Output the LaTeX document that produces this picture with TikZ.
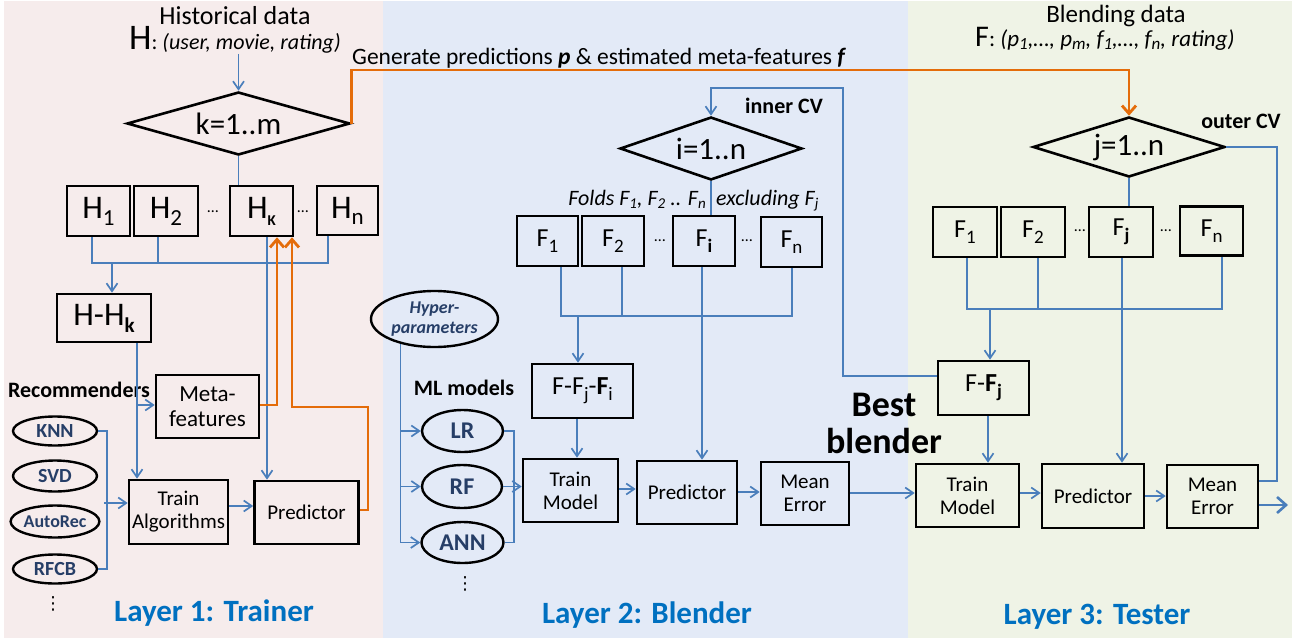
\documentclass[tikz,border=0pt]{standalone}
\usepackage{fontspec}
\setmainfont{Carlito}
\newfontfamily\dvf{DejaVu Sans}
\usetikzlibrary{shapes.geometric,arrows.meta}
\definecolor{bA}{RGB}{74,126,187}
\definecolor{oA}{RGB}{228,108,10}
\definecolor{tB}{RGB}{0,112,192}
\definecolor{eT}{RGB}{38,62,103}
\definecolor{bgA}{RGB}{246,236,236}
\definecolor{bgB}{RGB}{227,234,247}
\definecolor{bgC}{RGB}{239,243,230}
\newcommand{\fsz}[2]{\fontsize{#1}{#2}\selectfont}
\newcommand{\low}[3]{\raisebox{-#1pt}{\fontsize{#2}{#2}\selectfont #3}}
\tikzset{
 box/.style={draw, line width=2.6pt, inner sep=1pt, align=center, font=\fsz{21}{23}},
 dia/.style={draw, diamond, line width=2.6pt, inner sep=0pt, aspect=3.5, font=\fsz{31}{33}},
 ell/.style={draw, ellipse, line width=2.4pt, inner sep=0pt, align=center, text=eT, font=\bfseries\fsz{20}{22}},
 bl/.style={draw=bA, line width=1.7pt},
 blA/.style={bl, -{Straight Barb[length=8pt,width=11pt]}},
 orA/.style={draw=oA, line width=2.8pt, -{Straight Barb[length=8pt,width=14pt]}},
 lay/.style={text=tB, font=\bfseries\fsz{31}{33}},
 lbl/.style={font=\bfseries\fsz{22}{24}},
 hb/.style={box, minimum width=63, minimum height=50},
 vdt/.style={font=\dvf\fsz{18}{18}},
}
\begin{document}
\begin{tikzpicture}[x=1pt,y=-1pt]
\useasboundingbox (0,0) rectangle (1305,642);
\fill[white] (0,0) rectangle (1305,642);
\fill[bgA] (4,1) rectangle (383,638);
\fill[bgB] (383,1) rectangle (908,638);
\fill[bgC] (908,1) rectangle (1292,638);

% ---------- Layer 1 ----------
\node[font=\fsz{26}{28}, inner sep=0] (histT) at (235,16) {Historical data};
\node[anchor=base west, inner sep=0] (hdata) at (129,50) {{\fsz{36}{36}H}{\fsz{22}{22}: \textit{(user, movie, rating)}}};
\node[dia, minimum width=223, minimum height=63] (d1) at (238.5,123.5) {k=1..m};

\node[hb] (h1) at (98.5,211) {\fsz{33}{33}H\low{7}{23}{1}};
\node[hb, minimum width=64] (h2) at (166,211) {\fsz{33}{33}H\low{7}{23}{2}};
\node (hd1) at (213,212) {\fsz{16}{16}\ldots};
\node[hb] (hk) at (261.5,211) {\fsz{33}{33}H\low{7}{15}{\bfseries K}};
\node (hd2) at (303,212) {\fsz{16}{16}\ldots};
\node[hb, minimum width=61, minimum height=49] (hn) at (347.5,210.5) {\fsz{33}{33}H\low{6}{23}{n}};

\node[box, minimum width=94, minimum height=48] (hhk) at (104,318) {\fsz{33}{33}H-H\low{7}{21}{\bfseries k}};
\node[box, minimum width=103, minimum height=63, font=\fsz{23}{25}] (meta) at (207.5,406.5) {Meta-\\features};
\node[box, minimum width=99, minimum height=64] (tra) at (178.5,512) {Train\\Algorithms};
\node[box, minimum width=104, minimum height=63] (pr1) at (306.5,512.5) {Predictor};

\node[ell, minimum width=84, minimum height=29] (knn) at (55,431) {KNN};
\node[ell, minimum width=84, minimum height=31] (svd) at (55,476) {SVD};
\node[ell, minimum width=84, minimum height=32, font=\bfseries\fsz{18}{20}] (arec) at (55,521.5) {AutoRec};
\node[ell, minimum width=84, minimum height=29] (rfcb) at (55,569) {RFCB};
\node[vdt] (vd1) at (53,604) {⋮};
\node[lbl] (rec) at (79,390) {Recommenders};
\node[lay] (l1) at (214,613) {Layer 1: Trainer};

% ---------- Layer 2 ----------
\node[anchor=base west, inner sep=0, font=\fsz{23.5}{25}] (gen) at (352,64) {Generate predictions \textbf{\textit{p}} \& estimated meta-features \textbf{\textit{f}}};
\node[dia, minimum width=182, minimum height=63] (di) at (711,148.5) {i=1..n};
\node[lbl] (icv) at (784,106) {inner CV};
\node[anchor=base east, inner sep=0, font=\itshape\fsz{22}{24}] (folds) at (706,205) {Folds F\low{3}{15}{1}, F\low{3}{15}{2} .. F\low{3}{15}{n}};
\node[anchor=base west, inner sep=0, font=\itshape\fsz{22}{24}] (excl) at (716,205) {excluding F\low{3}{15}{j}};

\node[hb, minimum width=61] (f1) at (547.5,241) {\fsz{26}{26}F\low{6}{19}{1}};
\node[hb, minimum width=62] (f2) at (613,241) {\fsz{26}{26}F\low{6}{19}{2}};
\node (fd1) at (660,241) {\fsz{16}{16}\ldots};
\node[hb, minimum width=62] (fi) at (704,241) {\fsz{26}{26}F\low{6}{19}{\bfseries i}};
\node (fd2) at (747,241) {\fsz{16}{16}\ldots};
\node[hb, minimum width=61] (fn) at (791.5,242) {\fsz{26}{26}F\low{6}{19}{n}};

\node[box, minimum width=101, minimum height=54] (ffi) at (582.5,391) {\fsz{26}{26}F-F\low{6}{19}{j}-\textbf{F}\low{6}{19}{i}};
\node[box, minimum width=95, minimum height=63] (tm2) at (570.5,490.5) {Train\\Model};
\node[box, minimum width=100, minimum height=63] (pr2) at (687,492.5) {Predictor};
\node[box, minimum width=88, minimum height=63] (me2) at (805,493.5) {Mean\\Error};

\node[ell, minimum width=127, minimum height=56, font=\bfseries\itshape\fsz{18}{20}] (hyp) at (434.5,319) {Hyper-\\parameters};
\node[ell, minimum width=81, minimum height=42, font=\bfseries\fsz{24}{26}] (lr) at (462.5,431) {LR};
\node[ell, minimum width=80, minimum height=43, font=\bfseries\fsz{24}{26}] (rf) at (462,486.5) {RF};
\node[ell, minimum width=82, minimum height=41, font=\bfseries\fsz{24}{26}] (ann) at (462.5,542.5) {ANN};
\node[font=\bfseries\fsz{22}{24}] (mlm) at (464,388) {ML models};
\node[vdt] (vd2) at (465,584) {⋮};
\node[lay] (l2) at (647,615) {Layer 2: Blender};
\node[font=\bfseries\fsz{36}{37}, align=center] (best) at (884,423) {Best\\blender};

% ---------- Layer 3 ----------
\node[font=\fsz{25}{27}, inner sep=0] (blt) at (1116,16) {Blending data};
\node[anchor=base west, inner sep=0] (fdata) at (975,47) {{\fsz{30}{30}F}{\fsz{23}{23}: \textit{(p\low{3}{17}{1},\ldots, p\low{3}{17}{m}, f\low{3}{17}{1},\ldots, f\low{3}{17}{n}, rating)}}};
\node[dia, minimum width=192, minimum height=60] (dj) at (1129,147) {j=1..n};
\node[font=\bfseries\fsz{22}{24}] (ocv) at (1241,121) {outer CV};

\node[hb, minimum width=64] (g1) at (965,232) {\fsz{26}{26}F\low{6}{19}{1}};
\node[hb, minimum width=64] (g2) at (1033,232) {\fsz{26}{26}F\low{6}{19}{2}};
\node (gd1) at (1080,231) {\fsz{16}{16}\ldots};
\node[hb, minimum width=64] (gj) at (1121,232) {\fsz{26}{26}F\low{6}{19}{\bfseries j}};
\node (gd2) at (1166,231) {\fsz{16}{16}\ldots};
\node[hb, minimum width=63, minimum height=49] (gn) at (1211.5,231) {\fsz{26}{26}F\low{6}{19}{n}};

\node[box, minimum width=91, minimum height=54] (ffj) at (983.5,388) {\fsz{26}{26}F-\textbf{F}\low{6}{19}{\bfseries j}};
\node[box, minimum width=103, minimum height=63] (tm3) at (967.5,495.5) {Train\\Model};
\node[box, minimum width=102, minimum height=64] (pr3) at (1093,496) {Predictor};
\node[box, minimum width=91, minimum height=63] (me3) at (1212.5,496.5) {Mean\\Error};
\coordinate (outE) at (1288,505);
\node[lay] (l3) at (1097,617) {Layer 3: Tester};

% ---------- connectors layer 1 ----------
\draw[blA] (d1.north |- hdata.south) -- (d1.north);
\draw[bl] (d1.south) -- (d1.south |- hk.north);
\draw[bl] (h1.south -| 92,0) -- (92,263) -- (328,263) -- (hn.south -| 328,0);
\draw[bl] (h2.south -| 158,0) -- (158,263);
\draw[blA] (112,263) -- (hhk.north -| 112,0);
\draw[blA] (hhk.south -| 137,0) -- (tra.north -| 137,0);
\draw[blA] (137,405) -- (meta.west |- 0,405);
\draw[blA] (hk.south -| 267,0) -- (pr1.north -| 267,0);
\draw[blA] (tra.east |- 0,506) -- (pr1.west |- 0,506);
\draw[bl] (knn.east) -- ++(9,0) |- (rfcb.east);
\draw[blA] (104,503) -- (tra.west |- 0,503);
\draw[orA] (meta.east |- 0,405) -- (277,405) -- (hk.south -| 277,0);
\draw[orA] (pr1.east |- 0,510) -- (368,510) -- (368,407) -- (292,407) -- (hk.south -| 292,0);
\draw[orA] (d1.east) -- (d1.east |- 0,70) -- (dj.north |- 0,70) -- (dj.north);

% ---------- connectors layer 2 ----------
\draw[blA] (ffj.west |- 0,376) -- (843,376) -- (843,88) -- (di.north |- 0,88) -- (di.north);
\draw[bl] (di.south) -- (di.south |- fi.north);
\draw[bl] (f1.south -| 561,0) -- (561,316) -- (792,316) -- (fn.south -| 792,0);
\draw[bl] (f2.south -| 622,0) -- (622,316);
\draw[blA] (578,316) -- (ffi.north -| 578,0);
\draw[blA] (fi.south -| 702,0) -- (pr2.north -| 702,0);
\draw[blA] (ffi.south -| 577,0) -- (tm2.north -| 577,0);
\draw[bl] (hyp.216) -- (hyp.216 |- ann.west);
\draw[blA] (hyp.216 |- lr.west) -- (lr.west);
\draw[blA] (hyp.216 |- rf.west) -- (rf.west);
\draw[blA] (hyp.216 |- ann.west) -- (ann.west);
\draw[bl] (lr.east) -- ++(10,0) |- (ann.east);
\draw[blA] (rf.east) -- (tm2.west |- rf.east);
\draw[blA] (tm2.east |- 0,489) -- (pr2.west |- 0,489);
\draw[blA] (pr2.east |- 0,492) -- (me2.west |- 0,492);
\draw[blA] (me2.east |- 0,493) -- (tm3.west |- 0,493);

% ---------- connectors layer 3 ----------
\draw[bl] (dj.south) -- (dj.south |- gj.north);
\draw[bl] (dj.east) -- (1277,147) -- (1277,481) -- (me3.east |- 0,481);
\draw[bl] (g1.south -| 967,0) -- (967,309) -- (1222,309) -- (gn.south -| 1222,0);
\draw[bl] (g2.south -| 1038,0) -- (1038,309);
\draw[blA] (990,309) -- (ffj.north -| 990,0);
\draw[blA] (gj.south -| 1122,0) -- (pr3.north -| 1122,0);
\draw[blA] (ffj.south -| 988,0) -- (tm3.north -| 988,0);
\draw[blA] (tm3.east |- 0,493) -- (pr3.west |- 0,493);
\draw[blA] (pr3.east |- 0,496) -- (me3.west |- 0,496);
\draw[bl, line width=2.6pt, -{Straight Barb[length=9pt,width=16pt]}] (me3.east |- 0,505) -- (outE);
\end{tikzpicture}
\end{document}
